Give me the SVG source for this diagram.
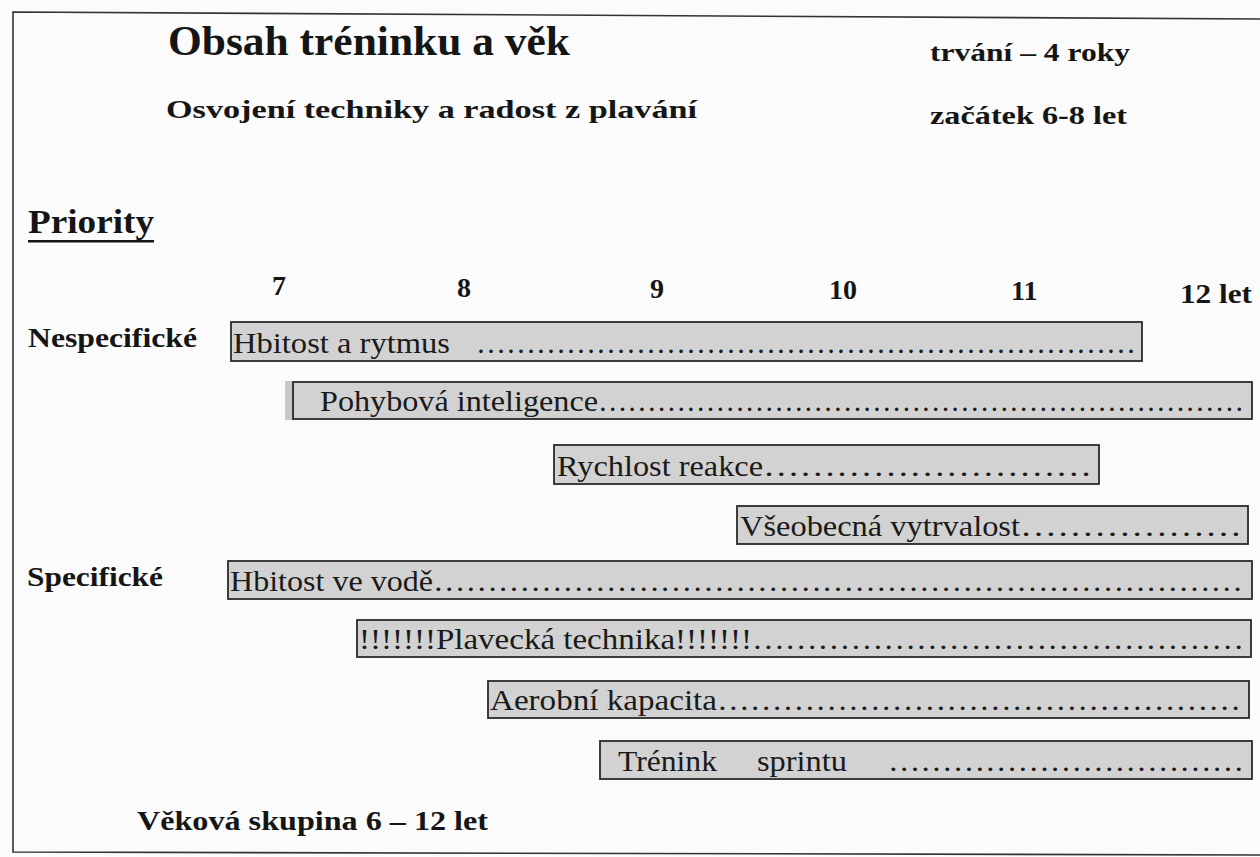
<svg xmlns="http://www.w3.org/2000/svg" width="1260" height="857" viewBox="0 0 1260 857" font-family="Liberation Serif, serif">
<style>
.hd{font-weight:bold;fill:#151515}
.lb{font-size:30px;fill:#1a1a1a}
.bar{fill:#d2d2d2;stroke:#2a2a2a;stroke-width:1.8}
.frame{fill:none;stroke:#333;stroke-width:1.6}
</style>
<rect width="1260" height="857" fill="#fbfbfb"/>
<path class="frame" d="M1260,19 L13,12 L13,852 L1260,855"/>

<g id="header">
<text class="hd" x="168" y="55" font-size="42" textLength="402" lengthAdjust="spacingAndGlyphs">Obsah tréninku a věk</text>
<text class="hd" x="930" y="61" font-size="26" textLength="200" lengthAdjust="spacingAndGlyphs">trvání – 4 roky</text>
<text class="hd" x="166" y="118" font-size="26" textLength="531" lengthAdjust="spacingAndGlyphs">Osvojení techniky a radost z plavání</text>
<text class="hd" x="930" y="124" font-size="26" textLength="197" lengthAdjust="spacingAndGlyphs">začátek 6-8 let</text>
<text class="hd" x="28" y="233" font-size="34" textLength="126" lengthAdjust="spacingAndGlyphs">Priority</text>
<rect x="28" y="240" width="126" height="2.5" fill="#151515"/>
</g>

<g id="axis">
<text class="hd" x="272" y="295" font-size="28">7</text>
<text class="hd" x="457" y="297" font-size="28">8</text>
<text class="hd" x="650" y="298" font-size="28">9</text>
<text class="hd" x="829" y="299" font-size="28">10</text>
<text class="hd" x="1011" y="300" font-size="28">11</text>
<text class="hd" x="1180" y="303" font-size="28" textLength="72" lengthAdjust="spacingAndGlyphs">12 let</text>
</g>

<g id="categories">
<text class="hd" x="28" y="347" font-size="28" textLength="169" lengthAdjust="spacingAndGlyphs">Nespecifické</text>
<text class="hd" x="27" y="586" font-size="28" textLength="136" lengthAdjust="spacingAndGlyphs">Specifické</text>
<text class="hd" x="137" y="830" font-size="28" textLength="351" lengthAdjust="spacingAndGlyphs">Věková skupina 6 – 12 let</text>
</g>

<g id="bar-hbitost-rytmus">
<rect class="bar" x="231" y="322" width="911" height="39"/>
<text class="lb" x="233" y="353" textLength="217" lengthAdjust="spacingAndGlyphs">Hbitost a rytmus</text>
<text class="lb" x="476" y="353" textLength="660" lengthAdjust="spacingAndGlyphs">…………………………………………………………</text>
</g>

<g id="bar-pohybova">
<rect x="285" y="381" width="9" height="39" fill="#c8c8c8"/>
<rect class="bar" x="293" y="382" width="959" height="37"/>
<text class="lb" x="320" y="411" textLength="278" lengthAdjust="spacingAndGlyphs">Pohybová inteligence</text>
<text class="lb" x="598" y="411" textLength="646" lengthAdjust="spacingAndGlyphs">…………………………………………………………</text>
</g>

<g id="bar-rychlost">
<rect class="bar" x="554" y="445" width="545" height="39"/>
<text class="lb" x="557" y="476" textLength="206" lengthAdjust="spacingAndGlyphs">Rychlost reakce</text>
<text class="lb" x="763" y="476" textLength="329" lengthAdjust="spacingAndGlyphs">………………………</text>
</g>

<g id="bar-vseobecna">
<rect class="bar" x="737" y="506" width="511" height="38"/>
<text class="lb" x="740" y="536" textLength="280" lengthAdjust="spacingAndGlyphs">Všeobecná vytrvalost</text>
<text class="lb" x="1020" y="536" textLength="222" lengthAdjust="spacingAndGlyphs">………………</text>
</g>

<g id="bar-hbitost-voda">
<rect class="bar" x="228" y="561" width="1024" height="38"/>
<text class="lb" x="230" y="591" textLength="203" lengthAdjust="spacingAndGlyphs">Hbitost ve vodě</text>
<text class="lb" x="433" y="591" textLength="810" lengthAdjust="spacingAndGlyphs">…………………………………………………………………</text>
</g>

<g id="bar-plavecka">
<rect class="bar" x="357" y="620" width="894" height="37"/>
<text class="lb" x="359" y="649" textLength="393" lengthAdjust="spacingAndGlyphs">!!!!!!!Plavecká technika!!!!!!!</text>
<text class="lb" x="752" y="649" textLength="492" lengthAdjust="spacingAndGlyphs">………………………………………</text>
</g>

<g id="bar-aerobni">
<rect class="bar" x="488" y="681" width="761" height="37"/>
<text class="lb" x="490" y="710" textLength="227" lengthAdjust="spacingAndGlyphs">Aerobní kapacita</text>
<text class="lb" x="717" y="710" textLength="524" lengthAdjust="spacingAndGlyphs">…………………………………………</text>
</g>

<g id="bar-sprint">
<rect class="bar" x="600" y="741" width="652" height="38"/>
<text class="lb" x="618" y="771" textLength="99" lengthAdjust="spacingAndGlyphs">Trénink</text>
<text class="lb" x="757" y="771" textLength="90" lengthAdjust="spacingAndGlyphs">sprintu</text>
<text class="lb" x="888" y="771" textLength="356" lengthAdjust="spacingAndGlyphs">……………………………</text>
</g>
</svg>
